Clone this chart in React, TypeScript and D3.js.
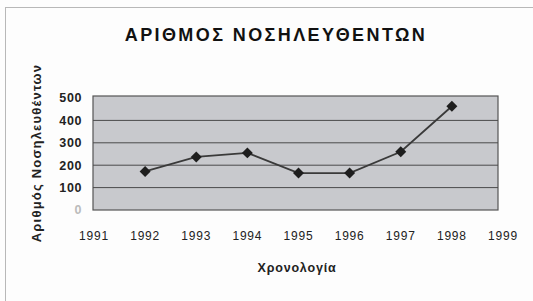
import * as d3 from "d3";
import React, { useRef, useEffect } from "react";

const years = [1992, 1993, 1994, 1995, 1996, 1997, 1998];
const patients = [172, 237, 255, 165, 165, 260, 463];
const xTicks = [1991, 1992, 1993, 1994, 1995, 1996, 1997, 1998, 1999];
const yTicks = [0, 100, 200, 300, 400, 500];
const chartTitle = "ΑΡΙΘΜΟΣ ΝΟΣΗΛΕΥΘΕΝΤΩΝ";
const xTitle = "Χρονολογία";
const yTitle = "Αριθμός Νοσηλευθέντων";

const W = 533;
const H = 301;

const draw = (node: SVGSVGElement) => {
  const plot = { left: 93, right: 498, top: 96, bottom: 210 };
  const font = "Arial, 'Liberation Sans', sans-serif";

  const svg = d3.select(node);
  svg.selectAll("*").remove();

  svg.append("rect").attr("width", W).attr("height", H).attr("fill", "#fdfdfd");

  // outer chart frame
  svg
    .append("rect")
    .attr("x", 5.5)
    .attr("y", 7.5)
    .attr("width", W - 4)
    .attr("height", H - 2)
    .attr("fill", "none")
    .style("stroke", "#b8b8b8")
    .style("stroke-width", "1px");

  const x = d3.scaleLinear().domain([1991, 1999]).range([94, 503]);
  const y = d3.scaleLinear().domain([0, 500]).range([plot.bottom, 98]);

  svg
    .append("rect")
    .attr("x", plot.left)
    .attr("y", plot.top)
    .attr("width", plot.right - plot.left)
    .attr("height", plot.bottom - plot.top)
    .attr("fill", "#c8c9cd")
    .style("stroke", "#555")
    .style("stroke-width", "1.2px");

  const g = svg.append("g");

  g.selectAll("line.grid")
    .data(yTicks.filter((d) => d > 0 && d < 500))
    .join("line")
    .attr("class", "grid")
    .attr("x1", plot.left)
    .attr("x2", plot.right)
    .attr("y1", (d) => y(d))
    .attr("y2", (d) => y(d))
    .style("stroke", "#4a4a4a")
    .style("stroke-width", "1px");

  // y tick labels
  g.selectAll("text.ytick")
    .data(yTicks)
    .join("text")
    .attr("class", "ytick")
    .attr("x", 82)
    .attr("y", (d) => y(d))
    .attr("dy", "0.35em")
    .attr("text-anchor", "end")
    .style("font-family", font)
    .style("font-size", "12.5px")
    .style("font-weight", "bold")
    .style("letter-spacing", "0.6px")
    .style("fill", (d) => (d === 0 ? "#bbb" : "#222"))
    .text((d) => d);

  // x tick labels
  g.selectAll("text.xtick")
    .data(xTicks)
    .join("text")
    .attr("class", "xtick")
    .attr("x", (d) => x(d))
    .attr("y", 240)
    .attr("text-anchor", "middle")
    .style("font-family", font)
    .style("font-size", "12px")
    .style("letter-spacing", "0.8px")
    .style("fill", "#222")
    .text((d) => d);

  const line = d3
    .line<number>()
    .x((d, i) => x(years[i]))
    .y((d) => y(d));

  g.append("path")
    .datum(patients)
    .attr("d", line)
    .style("fill", "none")
    .style("stroke", "#3a3a3a")
    .style("stroke-width", "1.8px");

  const sym = d3.symbol().type(d3.symbolSquare).size(60);
  g.selectAll("path.pt")
    .data(patients)
    .join("path")
    .attr("class", "pt")
    .attr("d", sym)
    .attr(
      "transform",
      (d, i) => "translate(" + x(years[i]) + "," + y(d) + ") rotate(45)"
    )
    .style("fill", "#1e1e1e");

  svg
    .append("text")
    .attr("x", 276)
    .attr("y", 41)
    .attr("text-anchor", "middle")
    .style("font-family", font)
    .style("font-size", "18px")
    .style("font-weight", "bold")
    .style("letter-spacing", "2.4px")
    .style("fill", "#111")
    .text(chartTitle);

  svg
    .append("text")
    .attr("x", 297)
    .attr("y", 272)
    .attr("text-anchor", "middle")
    .style("font-family", font)
    .style("font-size", "12.5px")
    .style("font-weight", "bold")
    .style("letter-spacing", "0.8px")
    .style("fill", "#222")
    .text(xTitle);

  svg
    .append("text")
    .attr("transform", "translate(41,153) rotate(-90)")
    .attr("text-anchor", "middle")
    .style("font-family", font)
    .style("font-size", "13px")
    .style("font-weight", "bold")
    .style("letter-spacing", "1.2px")
    .style("fill", "#222")
    .text(yTitle);
};

const App = () => {
  const ref = useRef<SVGSVGElement>(null);

  useEffect(() => {
    if (ref.current) draw(ref.current);
  }, []);

  return (
    <svg
      ref={ref}
      width={W}
      height={H}
      style={{ position: "absolute", left: 0, top: 0 }}
    />
  );
};

export default App;
